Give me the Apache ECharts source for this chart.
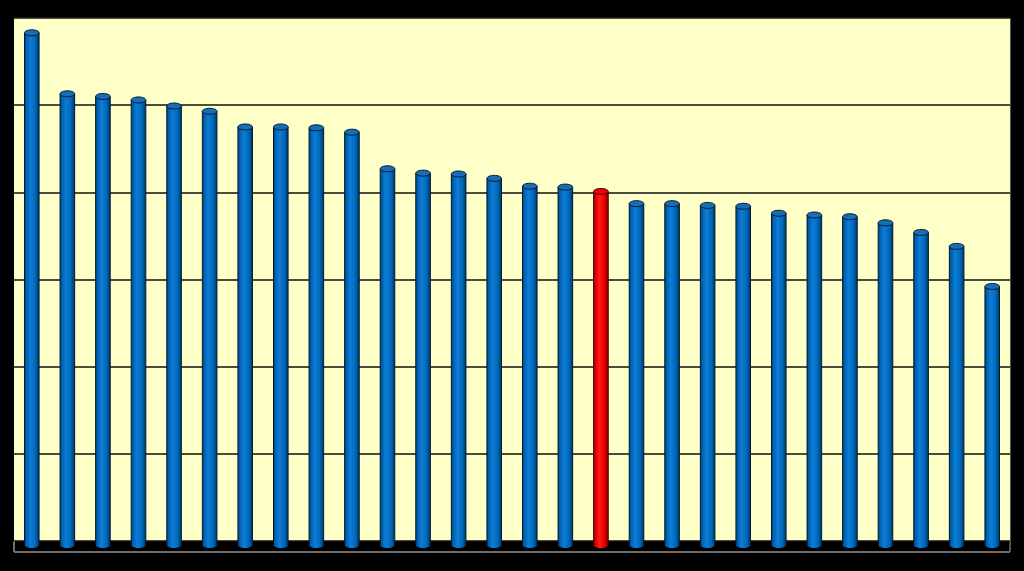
<!DOCTYPE html>
<html>
<head>
<meta charset="utf-8">
<script src="https://cdn.jsdelivr.net/npm/echarts@6/dist/echarts.min.js"></script>
<style>
html,body{margin:0;padding:0;background:#000;}
#chart{width:1024px;height:571px;}
</style>
</head>
<body>
<div id="chart"></div>
<script>
const categories = ['1','2','3','4','5','6','7','8','9','10','11','12','13','14','15','16','17','18','19','20','21','22','23','24','25','26','27','28'];
const values = [58.3, 51.3, 51.0, 50.6, 49.9, 49.3, 47.5, 47.5, 47.4, 46.9, 42.7, 42.2, 42.1, 41.6, 40.7, 40.6, 40.1, 38.7, 38.7, 38.5, 38.4, 37.6, 37.4, 37.2, 36.5, 35.4, 33.8, 29.2];
const highlightIndex = 16;
const yTicks = [0, 10, 20, 30, 40, 50, 60];

const chart = echarts.init(document.getElementById('chart'), null, {renderer: 'canvas'});

function cylinder(params, api) {
  const i = api.value(0), v = api.value(1);
  const top = api.coord([i, v]);
  const base = api.coord([i, 0]);
  const w = api.size([1, 0])[0] * 0.41;
  const x = top[0] - w / 2;
  const depth = 4, ry = 3;
  const red = i === highlightIndex;
  const stops = red
    ? [{offset: 0, color: '#9a0000'}, {offset: 0.12, color: '#d80000'}, {offset: 0.4, color: '#ff1a1a'}, {offset: 0.75, color: '#e60000'}, {offset: 1, color: '#800000'}]
    : [{offset: 0, color: '#003f78'}, {offset: 0.12, color: '#005fae'}, {offset: 0.4, color: '#0c7dd6'}, {offset: 0.75, color: '#0068b8'}, {offset: 1, color: '#003766'}];
  const grad = new echarts.graphic.LinearGradient(0, 0, 1, 0, stops);
  const bottomY = base[1] + depth;
  const edge = red ? '#400000' : '#021a33';
  return {
    type: 'group',
    children: [
      {type: 'rect', shape: {x: x, y: top[1], width: w, height: bottomY - top[1]}, style: {fill: grad}},
      {type: 'ellipse', shape: {cx: top[0], cy: bottomY, rx: w / 2, ry: ry}, style: {fill: grad}},
      {type: 'line', shape: {x1: x, y1: top[1], x2: x, y2: bottomY}, style: {stroke: edge, lineWidth: 1}},
      {type: 'line', shape: {x1: x + w, y1: top[1], x2: x + w, y2: bottomY}, style: {stroke: edge, lineWidth: 1}},
      {type: 'ellipse', shape: {cx: top[0], cy: top[1], rx: w / 2, ry: ry}, style: {fill: red ? '#ee0000' : '#196db5', stroke: edge, lineWidth: 1}}
    ]
  };
}

chart.setOption({
  backgroundColor: '#000000',
  animation: false,
  grid: {left: 14, right: 14, top: 18, bottom: 30, show: true, backgroundColor: '#FFFFC8', borderWidth: 0},
  xAxis: {
    type: 'category', data: categories, boundaryGap: true,
    axisLine: {show: false}, axisTick: {show: false}, axisLabel: {show: false}
  },
  yAxis: {
    type: 'value', min: yTicks[0], max: yTicks[yTicks.length - 1], interval: 10,
    axisLine: {show: false}, axisTick: {show: false}, axisLabel: {show: false},
    splitLine: {show: true, lineStyle: {color: '#111111', width: 1.5}}
  },
  graphic: [
    {type: 'line', z: -1, shape: {x1: 14, y1: 552, x2: 1010, y2: 552}, style: {stroke: '#6e6e6e', lineWidth: 2}},
    {type: 'line', z: -1, shape: {x1: 14, y1: 541, x2: 14, y2: 552}, style: {stroke: '#6e6e6e', lineWidth: 2}},
    {type: 'line', z: -1, shape: {x1: 1010, y1: 18, x2: 1010, y2: 552}, style: {stroke: '#6e6e6e', lineWidth: 1.5}},
    {type: 'line', z: -1, shape: {x1: 14, y1: 18, x2: 1010, y2: 18}, style: {stroke: '#8a8a70', lineWidth: 1}}
  ],
  series: [{
    type: 'custom',
    renderItem: cylinder,
    encode: {x: 0, y: 1},
    clip: false,
    data: values.map(function (v, i) { return [i, v]; })
  }]
});
</script>
</body>
</html>
